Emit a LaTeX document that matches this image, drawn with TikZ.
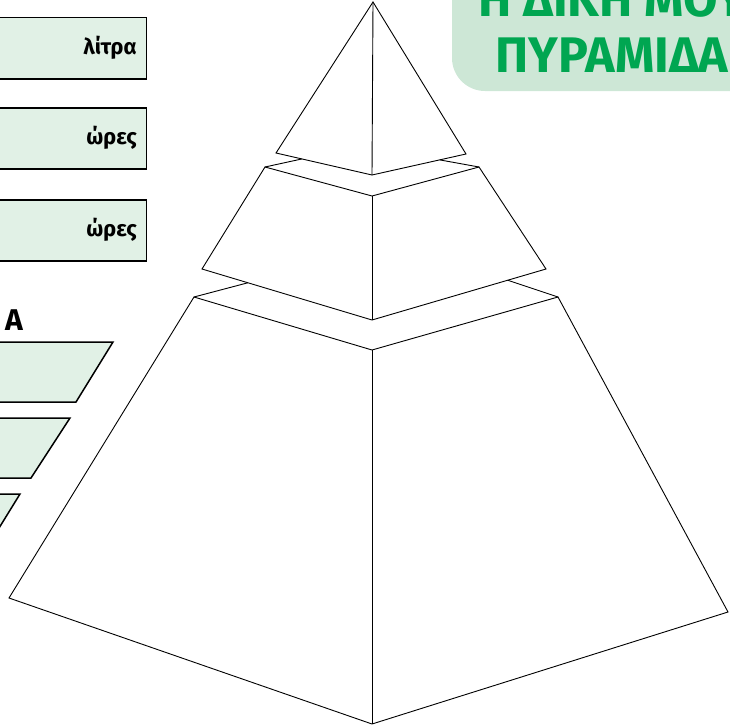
\documentclass[tikz,border=0pt]{standalone}
\usepackage{fontspec}
\setmainfont{Fira Sans}
\usetikzlibrary{positioning,calc}
\definecolor{boxgreen}{HTML}{E1F1E6}
\definecolor{titlegreen}{HTML}{CDE7D6}
\definecolor{textgreen}{HTML}{00A651}
\tikzset{
    unitbox/.style = {draw, rectangle, line width=1.5pt, fill=boxgreen,
        minimum width=160pt, minimum height=61pt, inner sep=0pt},
    unitlabel/.style = {anchor=base east, inner sep=0pt,
        font=\bfseries\fontsize{22}{22}\selectfont},
    shelf/.style = {draw, line width=1.5pt, fill=boxgreen},
    pyrline/.style = {draw, line width=0.9pt, line join=miter},
    heading/.style = {anchor=base, inner sep=0pt, text=textgreen,
        font=\bfseries\fontsize{50}{50}\selectfont}
}

\begin{document}
\begin{tikzpicture}[x=1pt,y=-1pt]
    \useasboundingbox (0,0) rectangle (730,725);
    \clip (0,0) rectangle (730,725);
    % title
    \fill[titlegreen, rounded corners=33pt] (452,-40) rectangle (780,91);
    \node[heading] (head1) at (612,17) {Η ΔΙΚΗ ΜΟΥ};
    \node[heading] (head2) at (612,72) {ΠΥΡΑΜΙΔΑ};
    % unit boxes
    \foreach \y/\txt/\nm in {17/λίτρα/water, 107/ώρες/sleep, 199/ώρες/screen} {
        \node[unitbox, anchor=north east] (\nm) at (147,\y) {};
        \node[unitlabel] (\nm-lbl) at ($(\nm.east)+(-10,6.5)$) {\txt};
    }
    % shelves
    \node[anchor=base east, inner sep=0pt, font=\bfseries\fontsize{30}{30}\selectfont] (cut) at (23,330) {Α};
    \filldraw[shelf] (-10,342) -- (113,342) -- (76,402) -- (-10,402) -- cycle;
    \filldraw[shelf] (-10,418) -- (70,418) -- (31,478) -- (-10,478) -- cycle;
    \filldraw[shelf] (-10,494) -- (20,494) -- (-17,554) -- (-10,554) -- cycle;
    % pyramid
    \coordinate (apex) at (373,2);
    \coordinate (t1) at (276,153);
    \coordinate (t2) at (372,175);
    \coordinate (t3) at (466,154);
    \coordinate (m1) at (265,167);
    \coordinate (m2) at (372,196);
    \coordinate (m3) at (479,167);
    \coordinate (m4) at (202,269);
    \coordinate (m5) at (372,320);
    \coordinate (m6) at (546,269);
    \coordinate (b1) at (194,297);
    \coordinate (b2) at (372,350);
    \coordinate (b3) at (558,297);
    \coordinate (b4) at (9,598);
    \coordinate (b5) at (372,724);
    \coordinate (b6) at (728,612);
    \draw[pyrline] (t1) -- (apex) -- (t3) -- (t2) -- cycle;
    \draw[pyrline] (apex) -- (t2);
    \draw[pyrline] (m1) -- ($(t1)!0.27!(t2)$);
    \draw[pyrline] (m3) -- ($(t2)!0.72!(t3)$);
    \draw[pyrline] (m1) -- (m2) -- (m3) -- (m6) -- (m5) -- (m4) -- cycle;
    \draw[pyrline] (m2) -- (m5);
    \draw[pyrline] (b1) -- ($(m4)!0.27!(m5)$);
    \draw[pyrline] (b3) -- ($(m5)!0.78!(m6)$);
    \draw[pyrline] (b1) -- (b2) -- (b3) -- (b6) -- (b5) -- (b4) -- cycle;
    \draw[pyrline] (b2) -- (b5);
\end{tikzpicture}
\end{document}
